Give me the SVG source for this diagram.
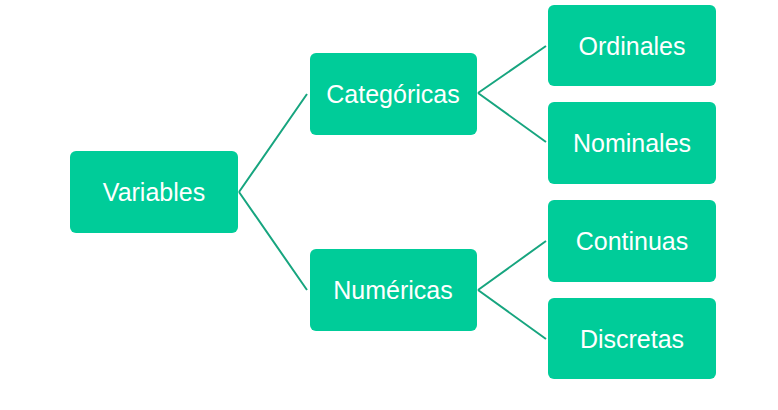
<svg xmlns="http://www.w3.org/2000/svg" width="778" height="410" viewBox="0 0 778 410">
<style>
.b{fill:#00cc99}
.t{fill:#fff;font-family:"Liberation Sans",Arial,sans-serif;font-size:25px;text-anchor:middle;dominant-baseline:central}
.c{stroke:#17a57f;stroke-width:2;fill:none}
</style>
<rect width="778" height="410" fill="#fff"/>
<g id="connectors" class="c">
<path d="M239,192 L307,94 M239,192 L307,290"/>
<path d="M478,93 L546,46 M478,93 L546,142"/>
<path d="M478,290 L546,241 M478,290 L546,339"/>
</g>
<g id="variables"><rect class="b" x="70" y="151" width="168" height="82" rx="6"/><text class="t" x="154" y="192">Variables</text></g>
<g id="categoricas"><rect class="b" x="310" y="53" width="167" height="82" rx="6"/><text class="t" x="393" y="94">Categóricas</text></g>
<g id="numericas"><rect class="b" x="310" y="249" width="167" height="82" rx="6"/><text class="t" x="393" y="290">Numéricas</text></g>
<g id="ordinales"><rect class="b" x="548" y="5" width="168" height="81" rx="6"/><text class="t" x="632" y="46">Ordinales</text></g>
<g id="nominales"><rect class="b" x="548" y="102" width="168" height="82" rx="6"/><text class="t" x="632" y="143">Nominales</text></g>
<g id="continuas"><rect class="b" x="548" y="200" width="168" height="82" rx="6"/><text class="t" x="632" y="241">Continuas</text></g>
<g id="discretas"><rect class="b" x="548" y="298" width="168" height="81" rx="6"/><text class="t" x="632" y="339">Discretas</text></g>
</svg>
